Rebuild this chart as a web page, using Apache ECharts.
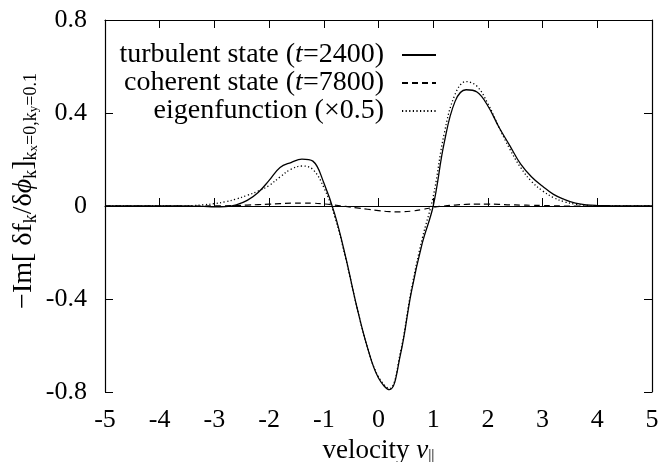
<!DOCTYPE html>
<html>
<head>
<meta charset="utf-8">
<script src="https://cdn.jsdelivr.net/npm/echarts@6/dist/echarts.min.js"></script>
<style>
  html, body { margin: 0; padding: 0; background: #fff; }
  #chart { width: 667px; height: 462px; }
</style>
</head>
<body>
<div id="chart"></div>
<script>
// velocity grid (v_parallel)
var velocity = [-5.0, -4.8, -4.6, -4.4, -4.2, -4.0, -3.8, -3.6, -3.4, -3.2,
  -3.0, -2.8, -2.6, -2.4, -2.2, -2.0, -1.8, -1.6, -1.4, -1.2,
  -1.0, -0.8, -0.6, -0.4, -0.2, 0.0, 0.2, 0.4, 0.6, 0.8,
  1.0, 1.2, 1.4, 1.6, 1.8, 2.0, 2.2, 2.4, 2.6, 2.8,
  3.0, 3.2, 3.4, 3.6, 3.8, 4.0, 4.2, 4.4, 4.6, 4.8, 5.0];

// turbulent state (t=2400)
var turbulent = [0, 0, 0, 0, 0, 0, 0, 0, -0.001, -0.002,
  -0.004, -0.003, 0.005, 0.024, 0.058, 0.11, 0.166, 0.187, 0.202, 0.193,
  0.1, -0.035, -0.22, -0.43, -0.61, -0.74, -0.79, -0.64, -0.37, -0.16,
  0.0, 0.27, 0.45, 0.5, 0.49, 0.43, 0.34, 0.26, 0.18, 0.125,
  0.085, 0.05, 0.028, 0.012, 0.005, 0.002, 0.001, 0, 0, 0, 0];

// coherent state (t=7800)
var coherent = [0, 0, 0, 0, 0, 0, 0, 0, 0, 0,
  0.001, 0.001, 0.002, 0.004, 0.006, 0.008, 0.01, 0.012, 0.012, 0.012,
  0.009, 0.004, -0.002, -0.008, -0.014, -0.02, -0.024, -0.025, -0.022, -0.015,
  -0.006, 0.0, 0.004, 0.007, 0.008, 0.008, 0.007, 0.005, 0.004, 0.003,
  0.002, 0.001, 0, 0, 0, 0, 0, 0, 0, 0, 0];

// eigenfunction (x0.5)
var eigen = [0, 0, 0, 0, 0, 0, 0, 0, 0.002, 0.005,
  0.01, 0.018, 0.03, 0.046, 0.064, 0.088, 0.125, 0.158, 0.172, 0.157,
  0.08, -0.045, -0.225, -0.43, -0.61, -0.735, -0.785, -0.63, -0.36, -0.14,
  0.04, 0.31, 0.48, 0.535, 0.515, 0.44, 0.34, 0.245, 0.165, 0.105,
  0.065, 0.036, 0.018, 0.008, 0.003, 0.001, 0, 0, 0, 0, 0];

var seriesNames = ['turbulent', 'coherent', 'eigen'];
var legendLabels = {
  turbulent: 'turbulent state ({i|t}=2400)',
  coherent: 'coherent state ({i|t}=7800)',
  eigen: 'eigenfunction (×0.5)'
};

function pairs(ys) {
  return velocity.map(function (v, i) { return [v, ys[i]]; });
}

var font = 'Liberation Serif';
var chart = echarts.init(document.getElementById('chart'));

var option = {
  backgroundColor: '#fff',
  animation: false,
  grid: { left: 105, right: 15, top: 20, bottom: 70, outerBoundsMode: 'none' },
  legend: {
    data: seriesNames,
    orient: 'vertical',
    align: 'right',
    right: 230,
    top: 41,
    padding: 0,
    itemWidth: 34,
    itemHeight: 10,
    itemGap: 0,
    itemStyle: { opacity: 0 },
    formatter: function (name) { return legendLabels[name] + '{sp|}'; },
    textStyle: {
      fontFamily: font, fontSize: 28, color: '#000', lineHeight: 28,
      rich: {
        i: { fontFamily: font, fontSize: 28, fontStyle: 'italic', color: '#000' },
        sp: { width: 13 }
      }
    }
  },
  xAxis: [{
    type: 'value', min: -5, max: 5, interval: 1,
    name: 'velocity {i|v}{s|||}',
    nameLocation: 'middle', nameGap: 31,
    nameTextStyle: {
      fontFamily: font, fontSize: 27, color: '#000',
      rich: {
        i: { fontFamily: font, fontSize: 27, fontStyle: 'italic', color: '#000' },
        s: { fontFamily: font, fontSize: 16, color: '#000', verticalAlign: 'bottom', lineHeight: 16 }
      }
    },
    axisLine: { lineStyle: { color: '#000', width: 1.2 } },
    axisTick: { inside: true, length: 8, lineStyle: { color: '#000' } },
    axisLabel: { fontFamily: font, fontSize: 26, color: '#000', margin: 15 },
    splitLine: { show: false }
  }, {
    type: 'value', min: -5, max: 5, interval: 1, position: 'top',
    axisLine: { onZero: false, lineStyle: { color: '#000', width: 1.2 } },
    axisTick: { inside: true, length: 8, lineStyle: { color: '#000' } },
    axisLabel: { show: false },
    splitLine: { show: false }
  }],
  yAxis: [{
    type: 'value', min: -0.8, max: 0.8, interval: 0.4,
    axisLine: { show: true, onZero: false, lineStyle: { color: '#000', width: 1.2 } },
    axisTick: { show: true, inside: true, length: 8, lineStyle: { color: '#000' } },
    axisLabel: { fontFamily: font, fontSize: 26, color: '#000', margin: 18 },
    splitLine: { show: false }
  }, {
    type: 'value', min: -0.8, max: 0.8, interval: 0.4, position: 'right',
    axisLine: { show: true, onZero: false, lineStyle: { color: '#000', width: 1.2 } },
    axisTick: { show: true, inside: true, length: 8, lineStyle: { color: '#000' } },
    axisLabel: { show: false },
    splitLine: { show: false }
  }],
  graphic: [{
    type: 'text',
    x: 24, y: 191,
    rotation: Math.PI / 2,
    style: {
      text: '−Im[ δf{s|k}/δ{i|ϕ}{s|k}]{s|k}{ss|x}{s|=0,k}{ss|y}{s|=0.1}',
      fontFamily: font, fontSize: 28, fill: '#000',
      align: 'center', verticalAlign: 'middle', lineHeight: 32,
      rich: {
        i: { fontFamily: font, fontSize: 28, fontStyle: 'italic', fill: '#000', lineHeight: 32 },
        s: { fontFamily: font, fontSize: 18, fill: '#000', verticalAlign: 'bottom', lineHeight: 19 },
        ss: { fontFamily: font, fontSize: 13, fill: '#000', verticalAlign: 'bottom', lineHeight: 12 }
      }
    }
  }],
  series: [{
    name: 'turbulent', type: 'line', data: pairs(turbulent),
    symbol: 'none', smooth: 0.4,
    lineStyle: { color: '#000', width: 1.3, type: 'solid' },
    itemStyle: { color: '#000' }
  }, {
    name: 'coherent', type: 'line', data: pairs(coherent),
    symbol: 'none', smooth: 0.4,
    lineStyle: { color: '#000', width: 1.2, type: [6, 4] },
    itemStyle: { color: '#000' }
  }, {
    name: 'eigen', type: 'line', data: pairs(eigen),
    symbol: 'none', smooth: 0.4,
    lineStyle: { color: '#000', width: 1.3, type: [1.2, 2.4] },
    itemStyle: { color: '#000' }
  }]
};

chart.setOption(option);
</script>
</body>
</html>
